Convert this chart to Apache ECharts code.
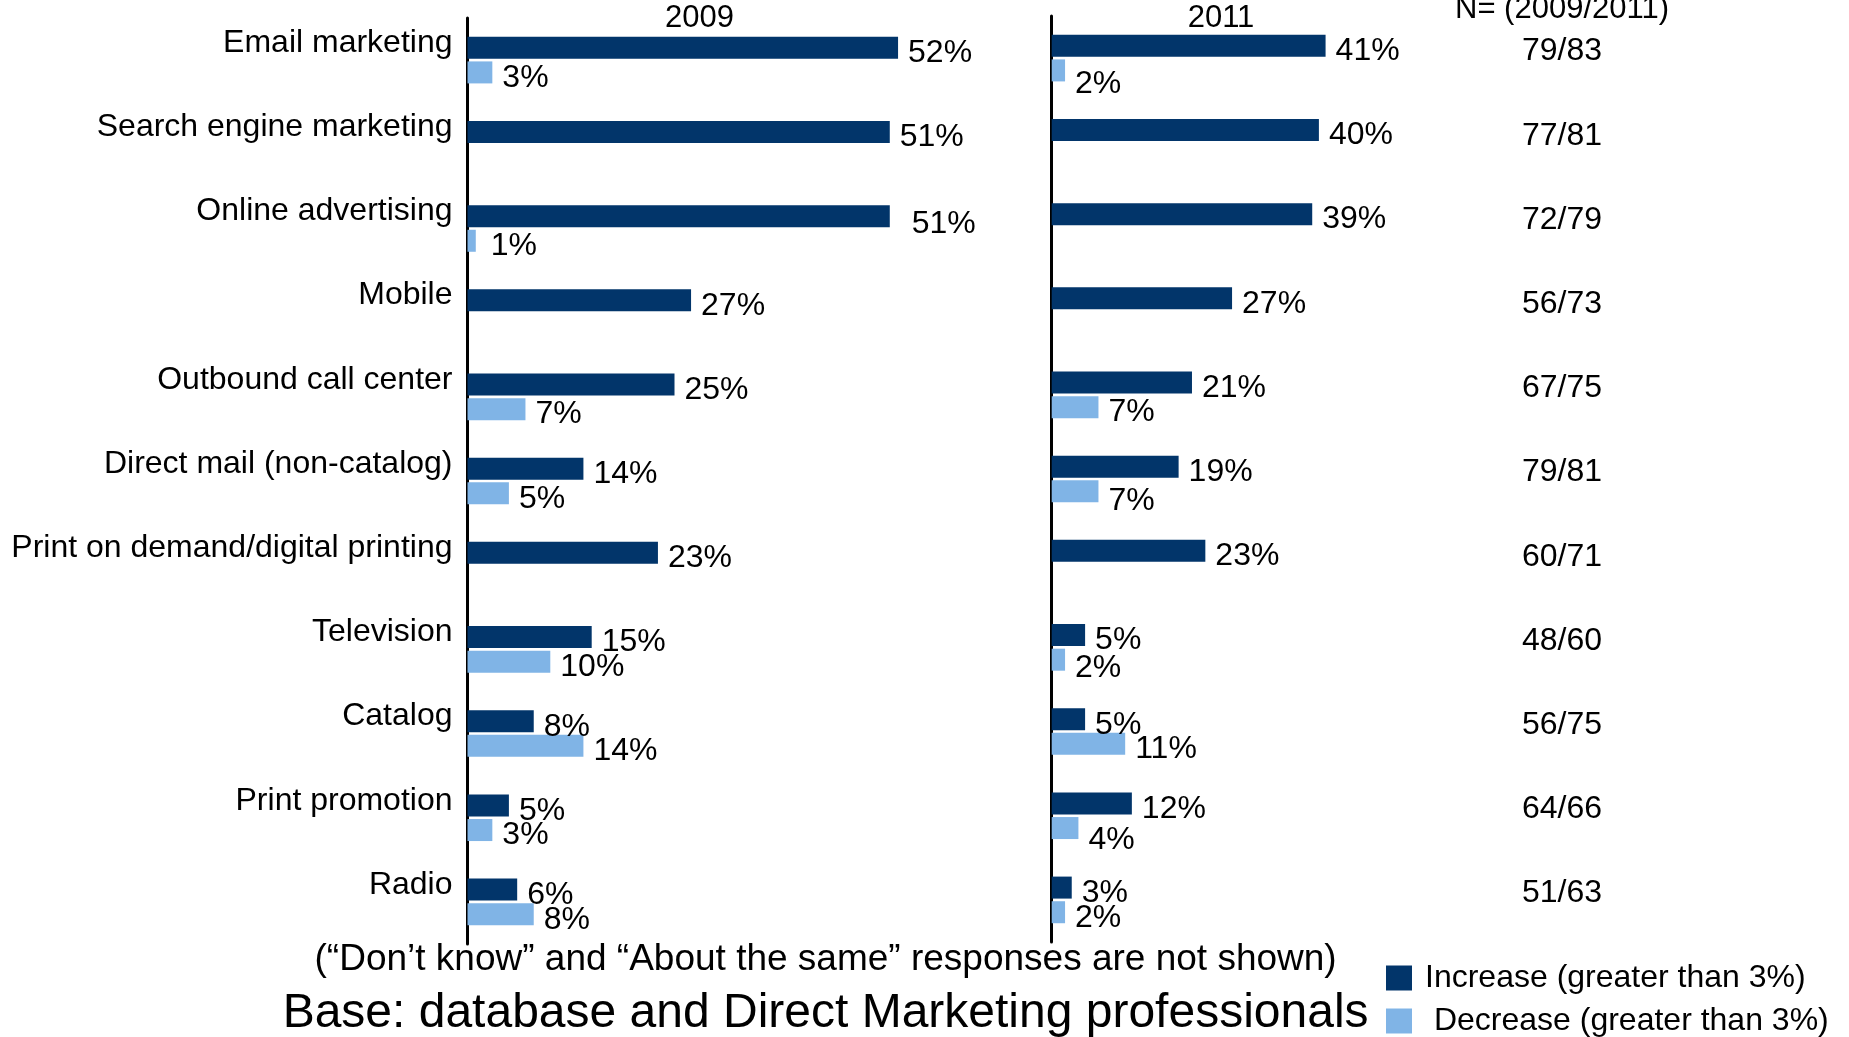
<!DOCTYPE html>
<html>
<head>
<meta charset="utf-8">
<script src="https://cdn.jsdelivr.net/npm/echarts@6/dist/echarts.min.js"></script>
<style>
  html, body { margin: 0; padding: 0; background: #ffffff; }
  #chart { width: 1849px; height: 1037px; }
</style>
</head>
<body>
<div id="chart"></div>
<script>
// Marketing channels: share expecting spending increase / decrease, 2009 vs 2011
const categories = [
  'Email marketing', 'Search engine marketing', 'Online advertising', 'Mobile',
  'Outbound call center', 'Direct mail (non-catalog)', 'Print on demand/digital printing',
  'Television', 'Catalog', 'Print promotion', 'Radio'
];
const increase2009 = [52, 51, 51, 27, 25, 14, 23, 15, 8, 5, 6];
const decrease2009 = [3, null, 1, null, 7, 5, null, 10, 14, 3, 8];
const increase2011 = [41, 40, 39, 27, 21, 19, 23, 5, 5, 12, 3];
const decrease2011 = [2, null, null, null, 7, 7, null, 2, 11, 4, 2];
const sampleSizes = ['79/83', '77/81', '72/79', '56/73', '67/75', '79/81', '60/71', '48/60', '56/75', '64/66', '51/63'];
const panelTitles = ['2009', '2011'];
const sampleHeader = 'N= (2009/2011)';
const seriesNames = ['Increase (greater than 3%)', ' Decrease (greater than 3%)'];
const footnote = '(\u201cDon\u2019t know\u201d and \u201cAbout the same\u201d responses are not shown)';
const baseNote = 'Base: database and Direct Marketing professionals';

const FONT = '"Liberation Sans", Arial, Helvetica, sans-serif';
const DARK = '#02356a';
const LIGHT = '#80b4e6';
const LABEL_DY = 5.5;

// hand-placed value labels: extra [dx, dy] per series / category
const labelNudges = {
  inc2009: { 'Online advertising': [12, 3] },
  dec2009: { 'Online advertising': [5, 0] },
  inc2011: {},
  dec2011: { 'Email marketing': [0, 8], 'Direct mail (non-catalog)': [0, 4], 'Print promotion': [0, 7], 'Television': [0, 3] }
};

const chart = echarts.init(document.getElementById('chart'), null, { renderer: 'canvas' });

function withNudges(values, nudges) {
  return values.map(function (v, i) {
    if (v === null) return null;
    const n = nudges[categories[i]];
    if (!n) return v;
    return { value: v, label: { offset: [n[0], LABEL_DY + n[1]] } };
  });
}

function barSeries(name, values, nudges, idx, color) {
  return {
    type: 'bar',
    name: name,
    data: withNudges(values, nudges),
    xAxisIndex: idx,
    yAxisIndex: idx,
    barWidth: 22,
    barGap: '12%',
    itemStyle: { color: color },
    label: {
      show: true,
      position: 'right',
      distance: 10,
      offset: [0, LABEL_DY],
      formatter: '{c}%',
      fontSize: 32,
      fontFamily: FONT,
      color: '#000'
    },
    emphasis: { disabled: true },
    animation: false
  };
}

function catAxis(gridIndex, showLabels) {
  return {
    type: 'category',
    gridIndex: gridIndex,
    data: categories,
    inverse: true,
    axisTick: { show: false },
    axisLine: { show: true, lineStyle: { color: '#000', width: 3 } },
    axisLabel: {
      show: showLabels,
      margin: 15,
      fontSize: 32,
      fontFamily: FONT,
      color: '#000',
      verticalAlign: 'bottom',
      lineHeight: 34
    },
    splitLine: { show: false }
  };
}

const option = {
  backgroundColor: '#ffffff',
  animation: false,
  grid: [
    { left: 467.5, top: 18, width: 60 * 8.28, height: 926 },
    { left: 1051.7, top: 16, width: 60 * 6.68, height: 926 },
    { left: 1562, top: 16, width: 100, height: 926 }
  ],
  xAxis: [
    { type: 'value', gridIndex: 0, min: 0, max: 60, show: false },
    { type: 'value', gridIndex: 1, min: 0, max: 60, show: false },
    { type: 'value', gridIndex: 2, min: 0, max: 60, show: false }
  ],
  yAxis: [
    catAxis(0, true),
    catAxis(1, false),
    {
      type: 'category',
      gridIndex: 2,
      data: sampleSizes,
      inverse: true,
      axisTick: { show: false },
      axisLine: { show: false },
      axisLabel: {
        align: 'center',
        margin: 0,
        fontSize: 32,
        fontFamily: FONT,
        color: '#000',
        verticalAlign: 'bottom',
        lineHeight: 13
      }
    }
  ],
  legend: {
    orient: 'vertical',
    left: 1386,
    top: 962,
    padding: 0,
    itemWidth: 26,
    itemHeight: 25,
    itemGap: 11,
    icon: 'rect',
    data: seriesNames,
    selectedMode: false,
    textStyle: { fontSize: 32, fontFamily: FONT, color: '#000', padding: [0, 0, 0, 8] }
  },
  graphic: [
    { type: 'text', x: 699.5, y: 18.5, style: { text: panelTitles[0], font: '31px ' + FONT, fill: '#000', align: 'center', verticalAlign: 'middle' } },
    { type: 'text', x: 1221, y: 18.5, style: { text: panelTitles[1], font: '31px ' + FONT, fill: '#000', align: 'center', verticalAlign: 'middle' } },
    { type: 'text', x: 1562, y: 9, style: { text: sampleHeader, font: '31px ' + FONT, fill: '#000', align: 'center', verticalAlign: 'middle' } },
    { type: 'text', x: 825.6, y: 960, style: { text: footnote, font: '37px ' + FONT, fill: '#000', align: 'center', verticalAlign: 'middle' } },
    { type: 'text', x: 825.6, y: 1014, style: { text: baseNote, font: '48px ' + FONT, fill: '#000', align: 'center', verticalAlign: 'middle' } }
  ],
  series: [
    barSeries(seriesNames[0], increase2009, labelNudges.inc2009, 0, DARK),
    barSeries(seriesNames[1], decrease2009, labelNudges.dec2009, 0, LIGHT),
    barSeries(seriesNames[0], increase2011, labelNudges.inc2011, 1, DARK),
    barSeries(seriesNames[1], decrease2011, labelNudges.dec2011, 1, LIGHT)
  ]
};

chart.setOption(option);
</script>
</body>
</html>
